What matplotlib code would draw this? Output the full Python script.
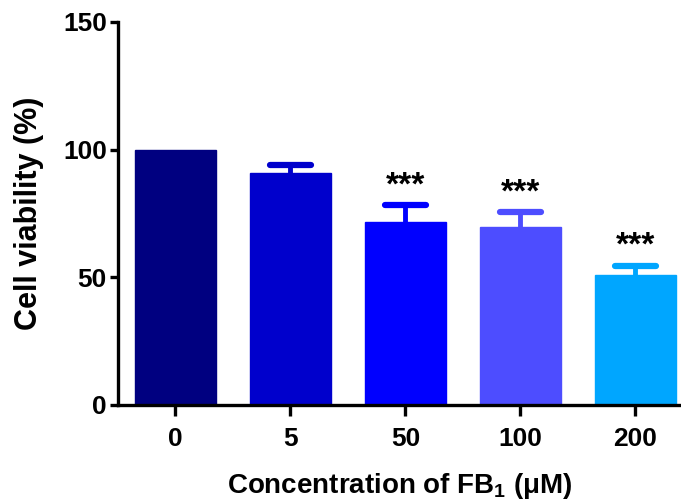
import matplotlib
matplotlib.use("Agg")
import matplotlib.pyplot as plt

categories = ["0", "5", "50", "100", "200"]
values = [100.0, 90.7, 71.5, 69.8, 51.0]
errors = [0.0, 3.2, 6.7, 5.6, 3.6]
signif = ["", "", "***", "***", "***"]
colors = ["#000080", "#0000CC", "#0000FF", "#4D4DFF", "#00A6FF"]

plt.rcParams['font.family'] = ['Liberation Sans', 'DejaVu Sans']
plt.rcParams['font.weight'] = 'bold'
plt.rcParams['mathtext.fontset'] = 'custom'
plt.rcParams['mathtext.rm'] = 'Liberation Sans:bold'
plt.rcParams['mathtext.bf'] = 'Liberation Sans:bold'
plt.rcParams['mathtext.it'] = 'Liberation Sans:bold'

fig = plt.figure(figsize=(6.81, 5.0), dpi=100)
ax = fig.add_axes([118/681, 95/500, 563.5/681, 383/500])

x = list(range(len(categories)))
bw = 0.71
ax.bar(x, values, width=bw, color=colors, edgecolor=colors, linewidth=1, zorder=2)
cap = 0.18
for xi, v, e, c in zip(x, values, errors, colors):
    if e > 0:
        ax.vlines(xi, v, v + e, color=c, linewidth=3.5, zorder=1)
        ax.hlines(v + e, xi - cap, xi + cap, color=c, linewidth=4.5,
                  capstyle='round', zorder=1)
for xi, v, e, s in zip(x, values, errors, signif):
    if s:
        ax.text(xi, v + e + 1.5, s, ha='center', va='bottom',
                fontsize=24, fontweight='bold')

ax.set_xlim(-0.5, 4.4)
ax.set_ylim(0, 150)
ax.set_yticks([0, 50, 100, 150])
ax.set_xticks(x)
ax.set_xticklabels(categories)
for sp in ['top', 'right']:
    ax.spines[sp].set_visible(False)
for sp in ['left', 'bottom']:
    ax.spines[sp].set_linewidth(2.4)
ax.tick_params(axis='y', length=6, width=2.4, labelsize=19, pad=2)
ax.tick_params(axis='x', length=8, width=2.4, labelsize=19, pad=8)
for lab in ax.get_xticklabels() + ax.get_yticklabels():
    lab.set_fontweight('bold')

ax.set_ylabel("Cell viability (%)", fontsize=22, fontweight='bold', labelpad=14)
ax.set_xlabel(r"Concentration of FB$_1$ ($\mathrm{\mu}$M)", fontsize=20,
              fontweight='bold', labelpad=14)

fig.savefig("out.png", dpi=100)
